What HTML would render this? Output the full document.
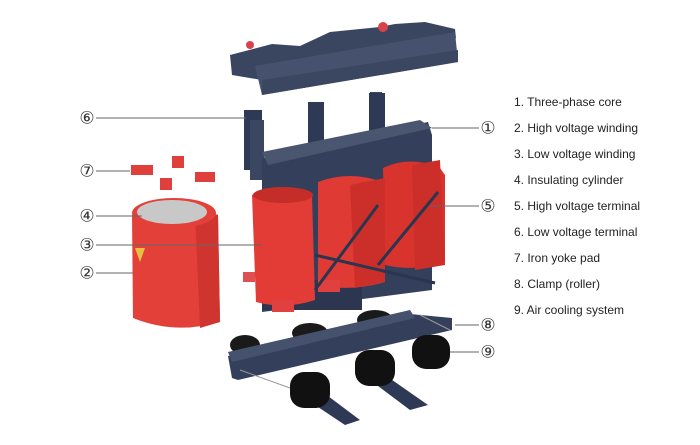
<!DOCTYPE html>
<html><head><meta charset="utf-8">
<style>
html,body{margin:0;padding:0;background:#fff;}
svg{display:block}
.lg{font-family:"Liberation Sans",sans-serif;font-size:12px;fill:#222;}
.cn{font-family:"Liberation Serif","DejaVu Serif",serif;font-size:17px;fill:#333;}
</style></head><body>
<svg width="700" height="445" viewBox="0 0 700 445" xmlns="http://www.w3.org/2000/svg">
<rect width="700" height="445" fill="#fff"/>
<!-- top clamp -->
<polygon points="230,55 272,44 300,46 330,32 380,27 395,24 425,22 455,29 456,38 262,80 232,75" fill="#3a4660"/>
<polygon points="255,66 455,32 458,62 262,95" fill="#46526d"/>
<polygon points="262,80 458,50 458,62 262,95" fill="#3b4760"/>
<circle cx="250" cy="45" r="4" fill="#d8434a"/><circle cx="383" cy="27" r="5" fill="#d8434a"/>
<rect x="370" y="92" width="12" height="8" fill="#3a4660"/>
<!-- low voltage terminals -->
<rect x="244" y="110" width="18" height="60" fill="#2e3a55"/>
<rect x="250" y="120" width="14" height="60" fill="#3b4760"/>
<rect x="308" y="102" width="16" height="50" fill="#2e3a55"/>
<rect x="369" y="93" width="16" height="45" fill="#2e3a55"/>
<!-- core -->
<polygon points="262,158 428,122 432,135 432,290 262,312" fill="#34405b"/>
<polygon points="262,152 420,120 432,128 268,165" fill="#4a566f"/>
<rect x="262" y="280" width="100" height="30" fill="#2c3650"/>
<!-- coils -->
<path d="M383,168 Q410,155 440,168 L445,175 445,262 Q415,272 385,265 Z" fill="#d9332d"/>
<path d="M318,182 Q350,170 382,182 L385,190 385,282 Q350,292 318,285 Z" fill="#e03a34"/>
<path d="M412,165 L440,160 L445,265 L415,270 Z" fill="#cc2f2a"/>
<path d="M350,185 L385,178 L385,282 L355,288 Z" fill="#cc2f2a"/>
<path d="M252,195 Q282,180 312,195 L315,300 Q285,310 256,302 Z" fill="#e33c36"/>
<ellipse cx="283" cy="195" rx="30" ry="8" fill="#c52d28"/>
<rect x="243" y="272" width="12" height="10" fill="#e05050"/>
<rect x="272" y="300" width="22" height="12" fill="#e04040"/>
<rect x="318" y="280" width="22" height="12" fill="#e04040"/>
<line x1="315" y1="255" x2="435" y2="283" stroke="#2a3550" stroke-width="3"/>
<line x1="315" y1="290" x2="378" y2="205" stroke="#2a3550" stroke-width="3"/>
<line x1="378" y1="265" x2="438" y2="192" stroke="#2a3550" stroke-width="3"/>
<!-- yoke pads -->
<rect x="131" y="165" width="22" height="10" fill="#e0403c"/>
<rect x="172" y="156" width="12" height="12" fill="#e0403c"/>
<rect x="195" y="172" width="20" height="10" fill="#e0403c"/>
<rect x="160" y="178" width="12" height="12" fill="#e0403c"/>
<!-- left cylinder -->
<path d="M132,215 Q173,195 218,215 L220,322 Q175,335 133,318 Z" fill="#e4403a"/>
<path d="M195,212 L218,215 L220,322 L200,328 Z" fill="#d0342f"/>
<ellipse cx="174" cy="213" rx="42" ry="15" fill="#e4403a"/>
<ellipse cx="172" cy="212" rx="35" ry="12" fill="#c8c8c8"/>
<polygon points="140,262 135,248 145,248" fill="#e8c040"/>
<!-- bottom clamp & rollers -->
<ellipse cx="310" cy="333" rx="18" ry="10" fill="#1a1a1a"/>
<ellipse cx="375" cy="320" rx="18" ry="10" fill="#1a1a1a"/>
<ellipse cx="245" cy="345" rx="15" ry="10" fill="#1a1a1a"/>
<polygon points="228,356 410,314 452,318 452,330 238,380 232,378" fill="#34405b"/>
<polygon points="228,352 410,310 415,318 232,362" fill="#46526d"/>
<line x1="240" y1="370" x2="290" y2="388" stroke="#999"/>
<line x1="420" y1="315" x2="450" y2="330" stroke="#999"/>
<polygon points="320,390 360,420 345,425 300,395" fill="#2e3a55"/>
<polygon points="385,375 428,405 410,410 370,380" fill="#2e3a55"/>
<rect x="290" y="372" width="40" height="36" rx="14" fill="#111"/>
<rect x="355" y="350" width="40" height="36" rx="14" fill="#111"/>
<rect x="412" y="335" width="38" height="34" rx="14" fill="#111"/>
<!-- callout lines -->
<g stroke="#666" stroke-width="1">
<line x1="96" y1="118" x2="246" y2="118"/>
<line x1="96" y1="171" x2="130" y2="171"/>
<line x1="96" y1="216" x2="142" y2="216"/>
<line x1="96" y1="245" x2="262" y2="245"/>
<line x1="96" y1="273" x2="133" y2="273"/>
<line x1="432" y1="128" x2="479" y2="128"/>
<line x1="430" y1="206" x2="479" y2="206"/>
<line x1="455" y1="325" x2="479" y2="325"/>
<line x1="450" y1="352" x2="479" y2="352"/>
</g>
<g class="cn" text-anchor="middle" dominant-baseline="central">
<text x="87" y="118">⑥</text><text x="87" y="171">⑦</text><text x="87" y="216">④</text>
<text x="87" y="245">③</text><text x="87" y="273">②</text><text x="488" y="128">①</text>
<text x="488" y="206">⑤</text><text x="488" y="325">⑧</text><text x="488" y="352">⑨</text>
</g>
<g class="lg">
<text x="514" y="106">1. Three-phase core</text>
<text x="514" y="132">2. High voltage winding</text>
<text x="514" y="158">3. Low voltage winding</text>
<text x="514" y="184">4. Insulating cylinder</text>
<text x="514" y="210">5. High voltage terminal</text>
<text x="514" y="236">6. Low voltage terminal</text>
<text x="514" y="262">7. Iron yoke pad</text>
<text x="514" y="288">8. Clamp (roller)</text>
<text x="514" y="314">9. Air cooling system</text>
</g>
</svg>
</body></html>
